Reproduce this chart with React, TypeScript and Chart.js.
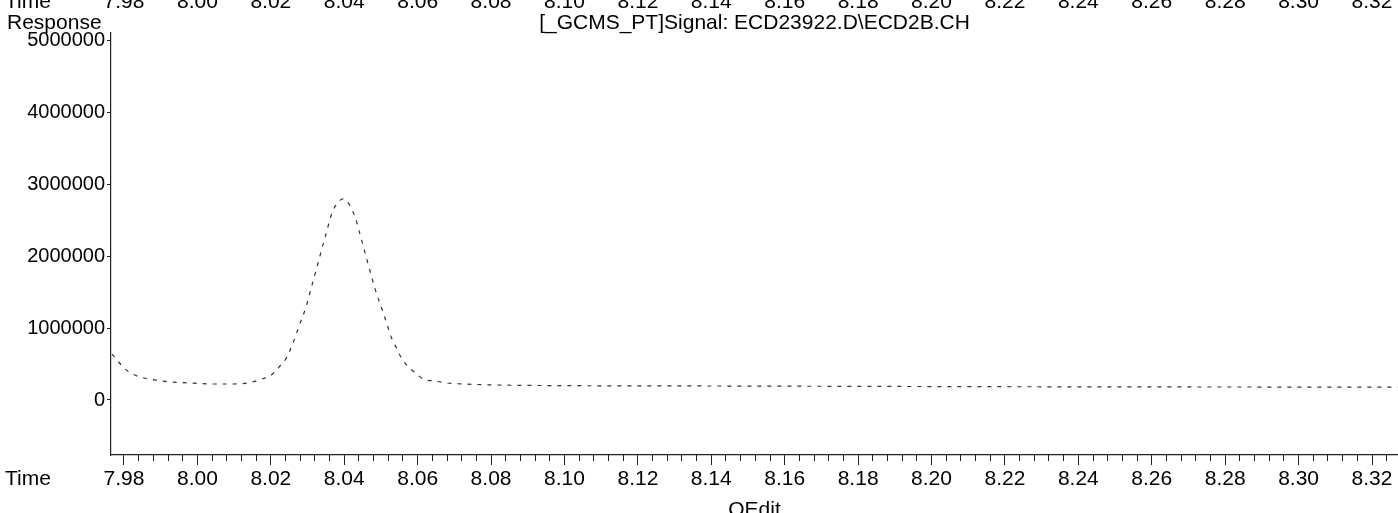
import React, { useEffect, useRef } from "react";
import { Chart, registerables } from "chart.js";

Chart.register(...registerables);

// ---- data ----
const times = [
  7.97673, 7.97782, 7.98136, 7.98845, 7.99798, 8.00425, 8.0097, 8.01378, 8.01841, 8.01978,
  8.0225, 8.02441, 8.0255, 8.02686, 8.0274, 8.02958, 8.03094, 8.03503, 8.03667, 8.03776,
  8.03882, 8.03967, 8.04075, 8.04293, 8.04429, 8.04647, 8.04838, 8.05083, 8.05301, 8.05438,
  8.05574, 8.06037, 8.06146, 8.06473, 8.068, 8.07236, 8.08162, 8.1, 8.14, 8.18,
  8.22, 8.26, 8.3, 8.327,
];
const responses = [
  640000, 571000, 390000, 279000, 237000, 223000, 223000, 237000, 306000, 334000,
  474000, 599000, 724000, 905000, 989000, 1295000, 1546000, 2312000, 2604000, 2716000,
  2780000, 2800000, 2770000, 2550000, 2310000, 1900000, 1550000, 1184000, 850000, 710000,
  571000, 334000, 292000, 265000, 237000, 223000, 209000, 200000, 195000, 190000,
  185000, 182000, 180000, 178000,
];
const xTickValues = [
  7.98, 8.0, 8.02, 8.04, 8.06, 8.08, 8.1, 8.12, 8.14, 8.16, 8.18, 8.2, 8.22, 8.24, 8.26, 8.28,
  8.3, 8.32,
];
const xTickLabels = [
  "7.98", "8.00", "8.02", "8.04", "8.06", "8.08", "8.10", "8.12", "8.14", "8.16", "8.18",
  "8.20", "8.22", "8.24", "8.26", "8.28", "8.30", "8.32",
];
const yTickValues = [0, 1000000, 2000000, 3000000, 4000000, 5000000];
const titleText = "[_GCMS_PT]Signal: ECD23922.D\\ECD2B.CH";
const xAxisTitle = "QEdit";
const yAxisLabel = "Response";
const timeLabel = "Time";

const X_MIN = 7.97646;
const X_MAX = 8.32708;
const Y_MIN = -766000;
const Y_MAX = 5111000;
const MINOR_DIV = 5;

const FONT = "'Liberation Sans', Arial, sans-serif";
const INK = "#000";
const LINE = "#222";

const minorTicks: number[] = [];
for (let i = 0; i < xTickValues.length; i++) {
  const step = 0.02 / MINOR_DIV;
  for (let k = 1; k < MINOR_DIV; k++) {
    const v = xTickValues[i] + k * step;
    if (v <= X_MAX) minorTicks.push(v);
  }
}

const textPlugin = {
  id: "sideText",
  afterDraw(chart: any) {
    const { ctx, scales, chartArea } = chart;
    ctx.save();
    ctx.fillStyle = INK;
    ctx.font = `21px ${FONT}`;
    ctx.textAlign = "left";
    ctx.textBaseline = "middle";
    const xs = scales.x;
    ctx.fillText(timeLabel, 5, xs.top + 10 + 2 + 12.6);
    const x2 = scales.x2;
    ctx.fillText(timeLabel, 5, x2.bottom - 12.6);
    ctx.textBaseline = "alphabetic";
    ctx.fillText(yAxisLabel, 7, chartArea.top - 4);
    ctx.restore();
  },
};

export default function App() {
  const ref = useRef<HTMLCanvasElement | null>(null);

  useEffect(() => {
    if (!ref.current) return;
    const chart = new Chart(ref.current, {
      type: "line",
      data: {
        datasets: [
          {
            data: times.map((t, i) => ({ x: t, y: responses[i] })),
            borderColor: "#333",
            borderWidth: 1.2,
            borderDash: [4, 6],
            pointRadius: 0,
            cubicInterpolationMode: "monotone",
            fill: false,
            xAxisID: "x",
            yAxisID: "y",
          },
        ],
      },
      options: {
        animation: false,
        responsive: false,
        devicePixelRatio: 1,
        layout: { padding: 0 },
        plugins: {
          legend: { display: false },
          tooltip: { enabled: false },
          title: {
            display: true,
            text: titleText,
            position: "top",
            fullSize: false,
            color: INK,
            font: { family: FONT, size: 21, weight: "normal", lineHeight: "19px" },
            padding: { top: -1, bottom: 0 },
          },
        },
        scales: {
          x: {
            type: "linear",
            position: "bottom",
            min: X_MIN,
            max: X_MAX,
            afterBuildTicks: (s: any) => {
              s.ticks = xTickValues.map((v) => ({ value: v }));
            },
            afterFit: (s: any) => {
              s.height = 78;
            },
            ticks: {
              callback: (_v: any, i: number) => xTickLabels[i],
              autoSkip: false,
              maxRotation: 0,
              minRotation: 0,
              padding: 2,
              color: INK,
              font: { family: FONT, size: 21 },
            },
            grid: {
              display: true,
              drawOnChartArea: false,
              drawTicks: true,
              tickLength: 10,
              color: LINE,
              lineWidth: 1,
            },
            border: { display: true, color: LINE, width: 1.2 },
            title: {
              display: true,
              text: xAxisTitle,
              color: INK,
              font: { family: FONT, size: 21 },
              padding: { top: 0, bottom: 10 },
            },
          },
          xm: {
            type: "linear",
            position: "bottom",
            weight: -1,
            min: X_MIN,
            max: X_MAX,
            afterBuildTicks: (s: any) => {
              s.ticks = minorTicks.map((v) => ({ value: v }));
            },
            afterFit: (s: any) => {
              s.height = 0;
            },
            ticks: { display: false },
            grid: {
              display: true,
              drawOnChartArea: false,
              drawTicks: true,
              tickLength: 6,
              color: LINE,
              lineWidth: 1,
            },
            border: { display: false },
          },
          x2: {
            type: "linear",
            position: "top",
            weight: 3000,
            min: X_MIN,
            max: X_MAX,
            afterBuildTicks: (s: any) => {
              s.ticks = xTickValues.map((v) => ({ value: v }));
            },
            afterFit: (s: any) => {
              s.height = 27;
            },
            ticks: {
              callback: (_v: any, i: number) => xTickLabels[i],
              autoSkip: false,
              maxRotation: 0,
              minRotation: 0,
              padding: 0,
              color: INK,
              font: { family: FONT, size: 21 },
            },
            grid: { display: false, drawTicks: false },
            border: { display: false },
          },
          y: {
            type: "linear",
            position: "left",
            min: Y_MIN,
            max: Y_MAX,
            afterBuildTicks: (s: any) => {
              s.ticks = yTickValues.map((v) => ({ value: v }));
            },
            afterFit: (s: any) => {
              s.width = 111;
            },
            ticks: {
              callback: (v: any) => String(v),
              padding: 2,
              color: INK,
              font: { family: FONT, size: 20 },
            },
            grid: {
              display: true,
              drawOnChartArea: false,
              drawTicks: true,
              tickLength: 4,
              color: LINE,
              lineWidth: 1,
            },
            border: { display: true, color: LINE, width: 1.2 },
          },
        },
      } as any,
      plugins: [textPlugin],
    });
    return () => chart.destroy();
  }, []);

  return (
    <div
      style={{
        position: "fixed",
        left: 0,
        top: 0,
        width: 1398,
        height: 513,
        overflow: "hidden",
        background: "#fff",
      }}
    >
      <div style={{ position: "absolute", left: 0, top: -12, width: 1398, height: 545 }}>
        <canvas ref={ref} width={1398} height={545} style={{ width: 1398, height: 545, display: "block" }} />
      </div>
    </div>
  );
}
